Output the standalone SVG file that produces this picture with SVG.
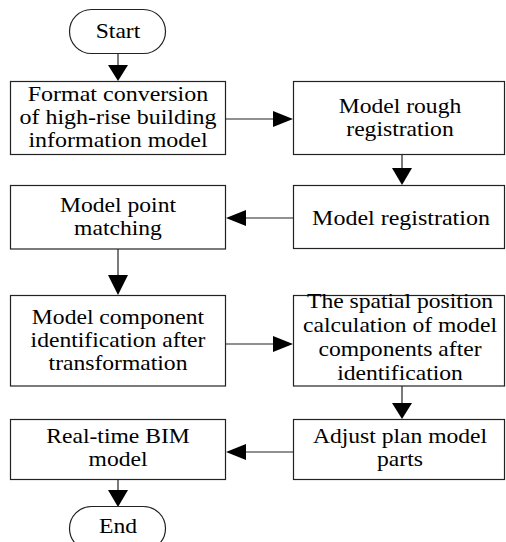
<svg xmlns="http://www.w3.org/2000/svg" width="506" height="542" viewBox="0 0 506 542">
<style>
.box{fill:#fff;stroke:#222;stroke-width:1.2}
.t{font-family:"Liberation Serif","Times New Roman",serif;font-size:20px;fill:#000;text-anchor:middle}
.ln{stroke:#222;stroke-width:1.2;fill:none}
.ah{fill:#000}
</style>
<rect width="506" height="542" fill="#fff"/>
<g id="connectors">
<line class="ln" x1="118" y1="54" x2="118" y2="66"/><polygon class="ah" points="108,65 128,65 118,81"/>
<line class="ln" x1="226" y1="119" x2="274" y2="119"/><polygon class="ah" points="273,111 273,127 293,119"/>
<line class="ln" x1="402" y1="154" x2="402" y2="169"/><polygon class="ah" points="392,168 412,168 402,185"/>
<line class="ln" x1="293" y1="218" x2="245" y2="218"/><polygon class="ah" points="246,210 246,226 226,218"/>
<line class="ln" x1="118" y1="249" x2="118" y2="276"/><polygon class="ah" points="108,275 128,275 118,295"/>
<line class="ln" x1="226" y1="344" x2="274" y2="344"/><polygon class="ah" points="273,336 273,352 293,344"/>
<line class="ln" x1="402" y1="386" x2="402" y2="404"/><polygon class="ah" points="392,403 412,403 402,419"/>
<line class="ln" x1="293" y1="452" x2="245" y2="452"/><polygon class="ah" points="246,444 246,460 226,452"/>
<line class="ln" x1="118" y1="479" x2="118" y2="491"/><polygon class="ah" points="108,490 128,490 118,507"/>
</g>
<g id="start">
<rect class="box" x="69.5" y="9.5" width="96" height="44" rx="22" ry="22"/>
<text class="t" transform="translate(118,0) scale(1.18,1)"><tspan x="0" y="38">Start</tspan></text>
</g>
<g id="format-conversion">
<rect class="box" x="10.5" y="81.5" width="215" height="73"/>
<text class="t" transform="translate(118,0) scale(1.2,1)"><tspan x="0" y="101">Format conversion</tspan><tspan x="0" y="124">of high-rise building</tspan><tspan x="0" y="147">information model</tspan></text>
</g>
<g id="rough-registration">
<rect class="box" x="293.5" y="81.5" width="211" height="73"/>
<text class="t" transform="translate(400,0) scale(1.18,1)"><tspan x="0" y="113">Model rough</tspan><tspan x="0" y="136">registration</tspan></text>
</g>
<g id="model-registration">
<rect class="box" x="293.5" y="185.5" width="211" height="63"/>
<text class="t" transform="translate(401,0) scale(1.2,1)"><tspan x="0" y="225">Model registration</tspan></text>
</g>
<g id="point-matching">
<rect class="box" x="10.5" y="185.5" width="215" height="63.5"/>
<text class="t" transform="translate(118,0) scale(1.18,1)"><tspan x="0" y="212">Model point</tspan><tspan x="0" y="235">matching</tspan></text>
</g>
<g id="component-identification">
<rect class="box" x="10.5" y="295.5" width="215" height="90.5"/>
<text class="t" transform="translate(118,0) scale(1.18,1)"><tspan x="0" y="324">Model component</tspan><tspan x="0" y="347">identification after</tspan><tspan x="0" y="370">transformation</tspan></text>
</g>
<g id="spatial-position">
<rect class="box" x="293.5" y="295.5" width="211" height="90.5"/>
<text class="t" transform="translate(400,0) scale(1.18,1)"><tspan x="0" y="308">The spatial position</tspan><tspan x="0" y="332">calculation of model</tspan><tspan x="0" y="356">components after</tspan><tspan x="0" y="380">identification</tspan></text>
</g>
<g id="adjust-plan">
<rect class="box" x="293.5" y="419.5" width="211" height="60"/>
<text class="t" transform="translate(400,0) scale(1.18,1)"><tspan x="0" y="443">Adjust plan model</tspan><tspan x="0" y="466">parts</tspan></text>
</g>
<g id="real-time-bim">
<rect class="box" x="10.5" y="419.5" width="215" height="60"/>
<text class="t" transform="translate(118,0) scale(1.18,1)"><tspan x="0" y="443">Real-time BIM</tspan><tspan x="0" y="466">model</tspan></text>
</g>
<g id="end">
<rect class="box" x="69.5" y="506.5" width="96" height="44" rx="22" ry="22"/>
<text class="t" transform="translate(118,0) scale(1.18,1)"><tspan x="0" y="533">End</tspan></text>
</g>
</svg>
